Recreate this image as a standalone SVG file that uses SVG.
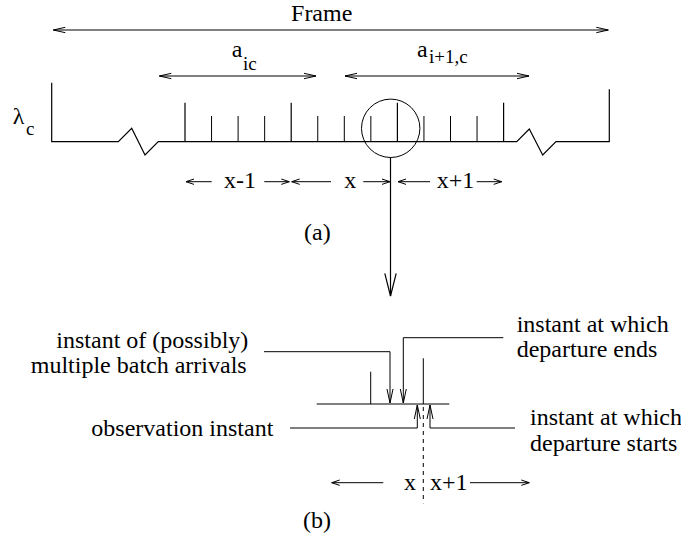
<svg xmlns="http://www.w3.org/2000/svg" width="681" height="539" viewBox="0 0 681 539">
<style>
text{font-family:"Liberation Serif","Times New Roman",Times,serif;font-size:24px;fill:#000}
.sub{font-size:19px}
.ln{fill:none;stroke:#000;stroke-width:1.2}
.th{fill:none;stroke:#000;stroke-width:1}
.dash{fill:none;stroke:#000;stroke-width:1;stroke-dasharray:4 4}
</style>
<defs>
<marker id="m1" markerUnits="userSpaceOnUse" markerWidth="14" markerHeight="8" refX="12" refY="4" orient="auto-start-reverse" overflow="visible"><path d="M0,1.3 L12,4 L0,6.7" fill="none" stroke="#000" stroke-width="1"/></marker>
<marker id="m2" markerUnits="userSpaceOnUse" markerWidth="10" markerHeight="8" refX="8" refY="4" orient="auto-start-reverse" overflow="visible"><path d="M0,1.3 L8,4 L0,6.7" fill="none" stroke="#000" stroke-width="1"/></marker>
<marker id="m3" markerUnits="userSpaceOnUse" markerWidth="24" markerHeight="14" refX="22.7" refY="6" orient="auto" overflow="visible"><path d="M0,0.3 L22.7,6 L0,11.7" fill="none" stroke="#000" stroke-width="1.2"/></marker>
<marker id="m4" markerUnits="userSpaceOnUse" markerWidth="16" markerHeight="8" refX="14" refY="4" orient="auto" overflow="visible"><path d="M0,1 L14,4 L0,7" fill="none" stroke="#000" stroke-width="1"/></marker>
</defs>

<g id="frame-label" font-family="Liberation Serif, serif">
<text x="321.7" y="21" text-anchor="middle">Frame</text>
</g>
<g id="a-ic-label" font-family="Liberation Serif, serif">
<text x="231.7" y="57">a</text><text class="sub" x="243" y="70">ic</text>
</g>
<g id="a-i1c-label" font-family="Liberation Serif, serif">
<text x="417" y="57">a</text><text class="sub" x="429" y="63">i+1,c</text>
</g>
<g id="lambda-label" font-family="Liberation Serif, serif">
<text x="12.7" y="124">λ</text><text class="sub" x="26" y="135">c</text>
</g>

<g id="timeline">
<path class="ln" d="M51.7,82.7 V141.7 H118.3 L131.7,128.3 L145,155 L158.3,141.7 H516.7 L529.3,129 L542.7,155 L556,141.7 H609.3 V89.3"/>
<path class="ln" d="M185,141.7 V102.7 M291.2,141.7 V102.7 M397.4,141.7 V102.7 M503.6,141.7 V102.7"/>
<path class="th" d="M211.55,141.7 V116 M238.1,141.7 V116 M264.65,141.7 V116 M317.75,141.7 V116 M344.3,141.7 V116 M370.85,141.7 V116 M423.95,141.7 V116 M450.5,141.7 V116 M477.05,141.7 V116"/>
</g>

<g id="zoom-circle">
<circle class="th" cx="390.7" cy="128.3" r="29.2"/>
</g>

<g id="interval-labels" font-family="Liberation Serif, serif">
<text x="224" y="188.3">x-1</text>
<text x="344.3" y="188.3">x</text>
<text x="436.7" y="188.3">x+1</text>
<text x="304" y="240">(a)</text>
</g>

<g id="part-b" font-family="Liberation Serif, serif">
<path class="ln" d="M316.7,404 H449.3"/>
<path class="th" d="M370.7,404 V371.7 M423.3,404 V358.3"/>
<path class="dash" d="M423.3,407 V503.3"/>
<text x="248.3" y="348" text-anchor="end">instant of (possibly)</text>
<text x="246.7" y="373" text-anchor="end">multiple batch arrivals</text>
<text x="273.3" y="436" text-anchor="end">observation instant</text>
<text x="516.7" y="331.5">instant at which</text>
<text x="516.7" y="356.5">departure ends</text>
<text x="530" y="425">instant at which</text>
<text x="530" y="451">departure starts</text>
<text x="404" y="490">x</text>
<text x="430" y="490">x+1</text>
<text x="303" y="528.3">(b)</text>
</g>

<g id="connectors">
<line class="th" x1="53.3" y1="30" x2="608.3" y2="30" marker-start="url(#m1)" marker-end="url(#m1)"/>
<line class="th" x1="159.3" y1="76" x2="316" y2="76" marker-start="url(#m1)" marker-end="url(#m1)"/>
<line class="th" x1="345" y1="76" x2="529" y2="76" marker-start="url(#m1)" marker-end="url(#m1)"/>
<line class="th" x1="211.7" y1="181.7" x2="186" y2="181.7" marker-end="url(#m2)"/>
<line class="th" x1="264.3" y1="181.7" x2="289.3" y2="181.7" marker-end="url(#m2)"/>
<line class="th" x1="331" y1="181.7" x2="291.7" y2="181.7" marker-end="url(#m2)"/>
<line class="th" x1="363.3" y1="181.7" x2="390" y2="181.7" marker-end="url(#m2)"/>
<line class="th" x1="430" y1="181.7" x2="398" y2="181.7" marker-end="url(#m2)"/>
<line class="th" x1="476.7" y1="181.7" x2="501.7" y2="181.7" marker-end="url(#m2)"/>
<line class="ln" x1="390.5" y1="157.5" x2="390.5" y2="296" marker-end="url(#m3)"/>
<polyline class="th" points="264,351.7 390,351.7 390,403" marker-end="url(#m4)"/>
<polyline class="th" points="503.3,337.7 403.3,337.7 403.3,403" marker-end="url(#m4)"/>
<polyline class="th" points="290,428 417.3,428 417.3,405" marker-end="url(#m4)"/>
<polyline class="th" points="515,428 430,428 430,405" marker-end="url(#m4)"/>
<line class="th" x1="383.3" y1="482.7" x2="331.7" y2="482.7" marker-end="url(#m2)"/>
<line class="th" x1="470" y1="482.7" x2="529.3" y2="482.7" marker-end="url(#m2)"/>
</g>
</svg>
